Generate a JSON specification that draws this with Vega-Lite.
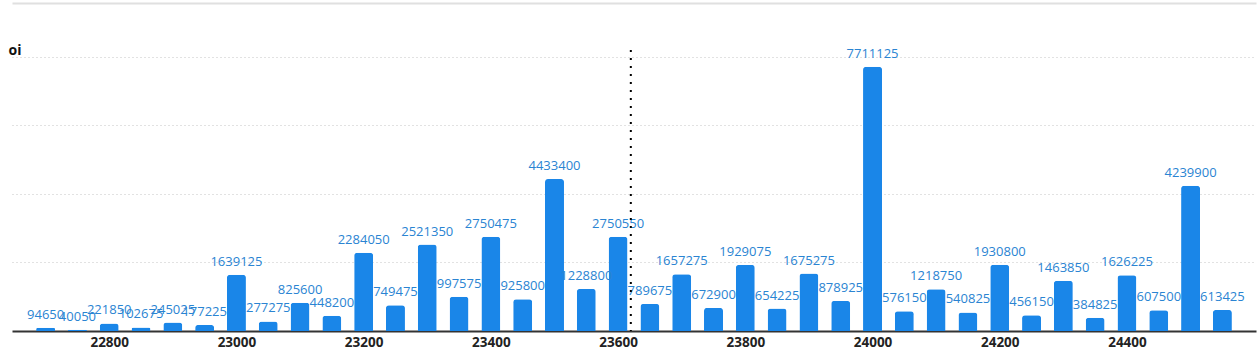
{
  "$schema": "https://vega.github.io/schema/vega-lite/v6.json",
  "width": 1244,
  "height": 281,
  "autosize": "none",
  "padding": {"left": 12, "top": 50, "right": 4, "bottom": 25},
  "background": "white",
  "config": {"view": {"stroke": null}, "font": "Open Sans"},
  "datasets": {
    "oi": [
      {"strike": 22700, "oi": 94650},
      {"strike": 22750, "oi": 40050},
      {"strike": 22800, "oi": 221850},
      {"strike": 22850, "oi": 102675},
      {"strike": 22900, "oi": 245025},
      {"strike": 22950, "oi": 177225},
      {"strike": 23000, "oi": 1639125},
      {"strike": 23050, "oi": 277275},
      {"strike": 23100, "oi": 825600},
      {"strike": 23150, "oi": 448200},
      {"strike": 23200, "oi": 2284050},
      {"strike": 23250, "oi": 749475},
      {"strike": 23300, "oi": 2521350},
      {"strike": 23350, "oi": 997575},
      {"strike": 23400, "oi": 2750475},
      {"strike": 23450, "oi": 925800},
      {"strike": 23500, "oi": 4433400},
      {"strike": 23550, "oi": 1228800},
      {"strike": 23600, "oi": 2750550},
      {"strike": 23650, "oi": 789675},
      {"strike": 23700, "oi": 1657275},
      {"strike": 23750, "oi": 672900},
      {"strike": 23800, "oi": 1929075},
      {"strike": 23850, "oi": 654225},
      {"strike": 23900, "oi": 1675275},
      {"strike": 23950, "oi": 878925},
      {"strike": 24000, "oi": 7711125},
      {"strike": 24050, "oi": 576150},
      {"strike": 24100, "oi": 1218750},
      {"strike": 24150, "oi": 540825},
      {"strike": 24200, "oi": 1930800},
      {"strike": 24250, "oi": 456150},
      {"strike": 24300, "oi": 1463850},
      {"strike": 24350, "oi": 384825},
      {"strike": 24400, "oi": 1626225},
      {"strike": 24450, "oi": 607500},
      {"strike": 24500, "oi": 4239900},
      {"strike": 24550, "oi": 613425}
    ],
    "spot": [{"spot": 23620}]
  },
  "resolve": {"axis": {"x": "independent"}},
  "layer": [
    {
      "data": {"name": "oi"},
      "mark": {"type": "bar", "color": "#1a86e8", "size": 19, "cornerRadiusTopLeft": 3, "cornerRadiusTopRight": 3},
      "encoding": {
        "x": {
          "field": "strike", "type": "quantitative",
          "scale": {"domain": [22655, 24595], "nice": false, "zero": false},
          "axis": {
            "values": [22800, 23000, 23200, 23400, 23600, 23800, 24000, 24200, 24400],
            "format": "d", "title": null, "grid": false, "ticks": false,
            "labelFontWeight": "bold", "labelFontSize": 13.5, "labelColor": "#222222",
            "labelPadding": 4, "domainColor": "#333333", "domainWidth": 2
          }
        },
        "y": {
          "field": "oi", "type": "quantitative",
          "scale": {"domain": [0, 8200000], "nice": false},
          "axis": {
            "values": [2000000, 4000000, 6000000, 8000000],
            "labels": false, "ticks": false, "domain": false,
            "grid": true, "gridDash": [1, 3], "gridColor": "#c4c4c4",
            "title": "oi", "titleAngle": 0, "titleAlign": "left", "titleBaseline": "alphabetic",
            "titleX": -4, "titleY": 4, "titleFontWeight": "bold", "titleFontSize": 14, "titleColor": "#111111"
          }
        }
      }
    },
    {
      "data": {"name": "oi"},
      "mark": {"type": "text", "color": "#2a84d2", "fontSize": 13, "baseline": "bottom", "dy": -6},
      "encoding": {
        "x": {"field": "strike", "type": "quantitative", "axis": null},
        "y": {"field": "oi", "type": "quantitative"},
        "text": {"field": "oi", "type": "quantitative", "format": "d"}
      }
    },
    {
      "data": {"name": "spot"},
      "mark": {"type": "rule", "color": "#000000", "strokeWidth": 2, "strokeDash": [2, 6]},
      "encoding": {
        "x": {
          "field": "spot", "type": "quantitative",
          "axis": {
            "orient": "top", "offset": 47, "labels": false, "ticks": false, "grid": false,
            "title": null, "domain": true, "domainColor": "#e0e0e0", "domainWidth": 2
          }
        }
      }
    }
  ]
}
